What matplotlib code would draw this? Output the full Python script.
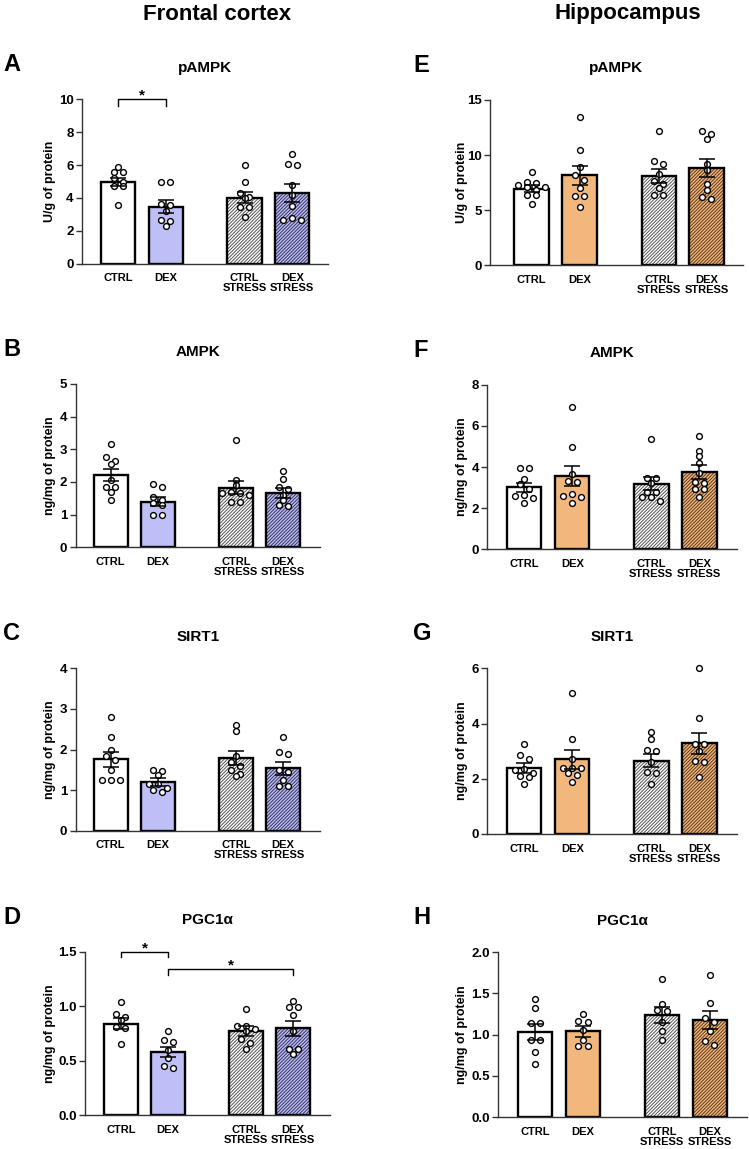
import matplotlib
matplotlib.use('Agg')
import matplotlib.pyplot as plt
import numpy as np

plt.rcParams['font.family'] = ['Liberation Sans', 'DejaVu Sans']
plt.rcParams['font.weight'] = 'bold'
plt.rcParams['axes.titleweight'] = 'bold'
plt.rcParams['axes.labelweight'] = 'bold'
plt.rcParams['hatch.linewidth'] = 0.7

W, H = 749, 1149

# grupy i pozycje slupkow
groups = ['CTRL', 'DEX', 'CTRL\nSTRESS', 'DEX\nSTRESS']
xpos = [0, 1, 2.65, 3.65]

# ---- Frontal cortex ----
pampk_fc_mean = [4.95, 3.47, 4.02, 4.30]
pampk_fc_sem = [0.25, 0.38, 0.35, 0.54]
pampk_fc_pts = [[5.9, 5.55, 5.55, 5.2, 4.95, 4.7, 4.7, 3.55],
                [5.0, 4.95, 3.65, 3.55, 3.2, 2.65, 2.6, 2.3],
                [6.0, 5.0, 4.3, 4.05, 4.0, 3.45, 3.45, 2.85],
                [6.65, 6.05, 6.0, 4.8, 4.2, 3.5, 2.75, 2.65, 2.65]]

ampk_fc_mean = [2.21, 1.40, 1.83, 1.67]
ampk_fc_sem = [0.19, 0.15, 0.21, 0.16]
ampk_fc_pts = [[3.15, 2.75, 2.65, 2.55, 2.05, 1.85, 1.85, 1.7, 1.45],
               [1.95, 1.85, 1.55, 1.45, 1.35, 1.3, 1.0, 1.0],
               [3.3, 2.05, 1.9, 1.7, 1.65, 1.65, 1.6, 1.4, 1.4],
               [2.35, 2.1, 1.85, 1.8, 1.6, 1.45, 1.3, 1.25]]

sirt1_fc_mean = [1.76, 1.20, 1.79, 1.54]
sirt1_fc_sem = [0.18, 0.095, 0.165, 0.16]
sirt1_fc_pts = [[2.8, 2.3, 2.0, 1.85, 1.75, 1.5, 1.25, 1.25, 1.25],
                [1.5, 1.48, 1.37, 1.15, 1.15, 1.05, 1.0, 0.95],
                [2.6, 2.45, 1.85, 1.7, 1.6, 1.5, 1.4, 1.35],
                [2.3, 1.95, 1.9, 1.5, 1.45, 1.25, 1.1, 1.1]]

pgc_fc_mean = [0.84, 0.58, 0.77, 0.795]
pgc_fc_sem = [0.048, 0.049, 0.045, 0.068]
pgc_fc_pts = [[1.04, 0.93, 0.9, 0.87, 0.81, 0.8, 0.65],
              [0.77, 0.69, 0.67, 0.6, 0.52, 0.45, 0.43],
              [0.97, 0.82, 0.82, 0.79, 0.77, 0.7, 0.66, 0.61],
              [1.05, 0.99, 0.99, 0.92, 0.77, 0.61, 0.61, 0.56]]

# ---- Hippocampus ----
pampk_hc_mean = [6.96, 8.15, 8.12, 8.85]
pampk_hc_sem = [0.32, 0.82, 0.64, 0.83]
pampk_hc_pts = [[8.5, 7.55, 7.5, 7.3, 7.15, 7.1, 6.85, 6.4, 6.4, 5.55],
                [13.45, 10.45, 8.9, 8.15, 7.75, 7.0, 6.3, 6.3, 5.25],
                [12.2, 9.45, 9.2, 8.25, 7.65, 7.35, 7.05, 6.4, 6.35],
                [12.15, 11.9, 11.45, 9.2, 8.65, 7.35, 6.85, 6.2, 6.0]]

ampk_hc_mean = [3.02, 3.56, 3.18, 3.75]
ampk_hc_sem = [0.22, 0.49, 0.31, 0.35]
ampk_hc_pts = [[3.95, 3.95, 3.4, 3.15, 2.95, 2.65, 2.6, 2.5, 2.25],
               [6.9, 4.95, 3.65, 3.3, 3.25, 2.7, 2.6, 2.55, 2.25],
               [5.35, 3.45, 3.45, 3.2, 2.8, 2.8, 2.55, 2.55, 2.35],
               [5.5, 4.8, 4.55, 4.2, 3.7, 3.25, 3.2, 2.95, 2.95, 2.55]]

sirt1_hc_mean = [2.39, 2.70, 2.66, 3.29]
sirt1_hc_sem = [0.165, 0.33, 0.23, 0.38]
sirt1_hc_pts = [[3.25, 2.85, 2.7, 2.35, 2.3, 2.2, 2.1, 2.05, 1.8],
                [5.1, 3.45, 2.7, 2.4, 2.4, 2.4, 2.2, 2.15, 1.9],
                [3.7, 3.45, 3.05, 3.0, 2.6, 2.25, 2.2, 1.8],
                [6.0, 4.2, 3.25, 3.25, 3.0, 2.65, 2.6, 2.05]]

pgc_hc_mean = [1.03, 1.04, 1.24, 1.175]
pgc_hc_sem = [0.097, 0.065, 0.097, 0.11]
pgc_hc_pts = [[1.43, 1.32, 1.14, 1.14, 0.93, 0.93, 0.79, 0.64],
              [1.25, 1.16, 1.15, 1.06, 0.94, 0.86, 0.86],
              [1.67, 1.37, 1.3, 1.29, 1.15, 1.05, 0.94],
              [1.72, 1.39, 1.2, 1.15, 1.04, 0.92, 0.87]]

# kolory
fc_face = ['white', '#bfbff7', 'white', '#bfbff7']
hc_face = ['white', '#f2b77d', 'white', '#f2b77d']
fc_hatch = [None, None, '#555555', '#34345e']
hc_hatch = [None, None, '#555555', '#5e3a1a']

# panele: litera, tytul, jednostka, dane, uklad w pikselach (lewo, prawo, gora, dol)
panels = [
    ('A', 'pAMPK', 'U/g of protein', pampk_fc_mean, pampk_fc_sem, pampk_fc_pts,
     (82, 328, 99.3, 263.7), (-0.76, 4.40), np.arange(0, 11, 2), '%d', 'fc',
     [((0, 1), 10.0, 0.4)]),
    ('B', 'AMPK', 'ng/mg of protein', ampk_fc_mean, ampk_fc_sem, ampk_fc_pts,
     (75.7, 320, 384, 547.3), (-0.74, 4.43), np.arange(0, 6, 1), '%d', 'fc', []),
    ('C', 'SIRT1', 'ng/mg of protein', sirt1_fc_mean, sirt1_fc_sem, sirt1_fc_pts,
     (75.7, 320, 668.3, 830.7), (-0.74, 4.43), np.arange(0, 5, 1), '%d', 'fc', []),
    ('D', 'PGC1α', 'ng/mg of protein', pgc_fc_mean, pgc_fc_sem, pgc_fc_pts,
     (85, 330, 951.7, 1115), (-0.76, 4.43), np.arange(0, 1.6, 0.5), '%.1f', 'fc',
     [((0, 1), 1.494, 0.046), ((1, 3), 1.338, 0.05)]),
    ('E', 'pAMPK', 'U/g of protein', pampk_hc_mean, pampk_hc_sem, pampk_hc_pts,
     (490, 742.7, 100, 265.3), (-0.87, 4.40), np.arange(0, 16, 5), '%d', 'hc', []),
    ('F', 'AMPK', 'ng/mg of protein', ampk_hc_mean, ampk_hc_sem, ampk_hc_pts,
     (487.3, 736.7, 384.7, 549.3), (-0.77, 4.43), np.arange(0, 9, 2), '%d', 'hc', []),
    ('G', 'SIRT1', 'ng/mg of protein', sirt1_hc_mean, sirt1_hc_sem, sirt1_hc_pts,
     (487.3, 736.7, 668.3, 834), (-0.77, 4.43), np.arange(0, 7, 2), '%d', 'hc', []),
    ('H', 'PGC1α', 'ng/mg of protein', pgc_hc_mean, pgc_hc_sem, pgc_hc_pts,
     (498.3, 746.7, 952.3, 1117), (-0.77, 4.42), np.arange(0, 2.1, 0.5), '%.1f', 'hc', []),
]


# prosty "beeswarm" jak w Prism: punkty o podobnej wartosci w jednym rzedzie
def swarm(x0, vals, thresh, step):
    vals = sorted(vals, reverse=True)
    rows = []
    for v in vals:
        if rows and rows[-1][0] - v < thresh:
            rows[-1].append(v)
        else:
            rows.append([v])
    xs, ys = [], []
    for row in rows:
        n = len(row)
        if n % 2:
            order = [0] + [s * k for k in range(1, n) for s in (-1, 1)]
        else:
            order = [s * (k - 0.5) for k in range(1, n) for s in (-1, 1)]
        for i, v in enumerate(row):
            xs.append(x0 + order[i] * step)
            ys.append(v)
    return xs, ys


fig = plt.figure(figsize=(W / 100, H / 100), dpi=100)

for letter, title, ylab, means, sems, pts, box, xlim, yticks, fmt, region, brackets in panels:
    left, right, top, bottom = box
    ax = fig.add_axes([left / W, 1 - bottom / H, (right - left) / W, (bottom - top) / H])
    faces = fc_face if region == 'fc' else hc_face
    hatches = fc_hatch if region == 'fc' else hc_hatch
    ymax = yticks[-1]

    for i in range(4):
        if hatches[i]:
            ax.bar(xpos[i], means[i], width=0.72, color=faces[i], edgecolor=hatches[i],
                   linewidth=0, hatch='//////////', zorder=2)
            ax.bar(xpos[i], means[i], width=0.72, fill=False, edgecolor='black',
                   linewidth=1.7, zorder=2.1)
        else:
            ax.bar(xpos[i], means[i], width=0.72, color=faces[i], edgecolor='black',
                   linewidth=1.7, zorder=2)

    px_per_unit = (bottom - top) / ymax
    for i in range(4):
        xs, ys = swarm(xpos[i], pts[i], 4.5 / px_per_unit, 0.19)
        ax.plot(xs, ys, 'o', ms=4.2, mfc='white', mec='black', mew=1.0,
                zorder=3, clip_on=False)

    ax.errorbar(xpos, means, yerr=sems, fmt='none', ecolor='black', elinewidth=1.1,
                capsize=5.5, capthick=1.1, zorder=4)

    for (i, j), yb, leg in brackets:
        ax.plot([xpos[i], xpos[i], xpos[j], xpos[j]], [yb - leg, yb, yb, yb - leg],
                color='black', lw=1.0, clip_on=False, zorder=5)
        ax.text((xpos[i] + xpos[j]) / 2, yb, '*', ha='center', va='baseline',
                fontsize=11, clip_on=False)

    ax.set_xlim(*xlim)
    ax.set_ylim(0, ymax)
    ax.set_yticks(yticks)
    ax.set_yticklabels([fmt % t for t in yticks])
    ax.set_xticks(xpos)
    ax.set_xticklabels(groups, linespacing=1.0)
    for s in ['top', 'right']:
        ax.spines[s].set_visible(False)
    for s in ['left', 'bottom']:
        ax.spines[s].set_color('#333333')
        ax.spines[s].set_linewidth(1.0)
    ax.tick_params(axis='y', length=4.5, width=1.0, color='#333333', pad=1.5, labelsize=9.5)
    ax.tick_params(axis='x', length=0, pad=7, labelsize=8)

    ax.set_title(title, fontsize=11, pad=20)
    ax.set_ylabel(ylab, fontsize=9)
    lab_px = 55.5 if region == 'fc' else 468.5
    ax.yaxis.set_label_coords((lab_px - left) / (right - left), 0.5)

    letter_x = 3 if region == 'fc' else 413
    fig.text(letter_x / W, 1 - (top - 28) / H, letter, fontsize=17, ha='left', va='baseline')

fig.text(217 / W, 1 - 19.5 / H, 'Frontal cortex', fontsize=16, ha='center', va='baseline')
fig.text(628 / W, 1 - 19.5 / H, 'Hippocampus', fontsize=16, ha='center', va='baseline')

fig.savefig('out.png', dpi=100)
